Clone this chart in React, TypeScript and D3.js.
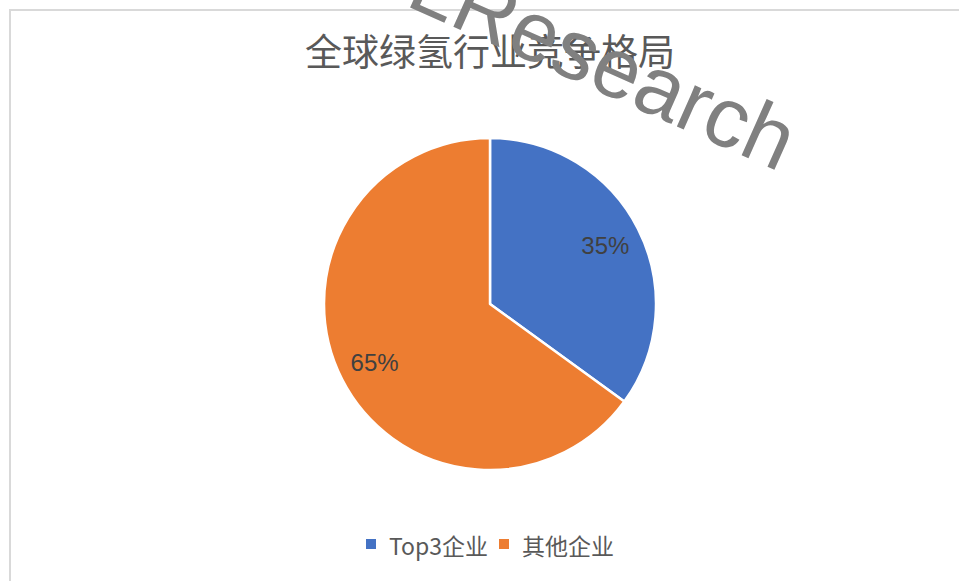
import React from "react";
import * as d3 from "d3";

const categories = ["Top3企业", "其他企业"];
const values = [35, 65];
const colors = ["#4472C4", "#ED7D31"];
const titleText = "全球绿氢行业竞争格局";

const W = 959;
const H = 581;
const cx = 490;
const cy = 304;
const R = 166;

export default function App() {
  const pie = d3.pie<number>().sort(null).value((d) => d);
  const arcs = pie(values);
  const arcGen = d3.arc<d3.PieArcDatum<number>>().innerRadius(0).outerRadius(R);
  const labelArc = d3
    .arc<d3.PieArcDatum<number>>()
    .innerRadius(R * 0.78)
    .outerRadius(R * 0.78);
  const total = d3.sum(values);
  const fmt = d3.format(".0%");

  const legendX = [366, 499];

  return (
    <svg
      width={W}
      height={H}
      style={{ position: "absolute", left: 0, top: 0, background: "#fff" }}
    >
      <rect x={0} y={0} width={W} height={H} fill="#fff" />
      <rect
        x={10}
        y={10}
        width={W + 20}
        height={H + 20}
        fill="#fff"
        stroke="#d9d9d9"
        strokeWidth={2}
      />
      <text
        x={cx}
        y={66}
        textAnchor="middle"
        fontFamily="'Noto Sans CJK SC', sans-serif"
        fontSize={37}
        fill="#595959"
      >
        {titleText}
      </text>
      <g transform={`translate(${cx},${cy})`}>
        {arcs.map((a, i) => (
          <path
            key={i}
            d={arcGen(a) || ""}
            fill={colors[i]}
            stroke="#fff"
            strokeWidth={2.5}
            strokeLinejoin="round"
          />
        ))}
        {arcs.map((a, i) => {
          const [lx, ly] = labelArc.centroid(a);
          return (
            <text
              key={"l" + i}
              x={lx}
              y={ly}
              dy="0.36em"
              textAnchor="middle"
              fontFamily="'Liberation Sans', Arial, sans-serif"
              fontSize={24}
              fill="#404040"
            >
              {fmt(a.data / total)}
            </text>
          );
        })}
      </g>
      {categories.map((c, i) => (
        <g key={"lg" + i}>
          <rect x={legendX[i]} y={539} width={10} height={10} fill={colors[i]} />
          <text
            x={legendX[i] + 23}
            y={555}
            fontFamily="'Noto Sans CJK SC', sans-serif"
            fontSize={23}
            fill="#595959"
          >
            {c}
          </text>
        </g>
      ))}
      <g
        transform="translate(447,24) rotate(24)"
        fontFamily="'Liberation Sans', Arial, sans-serif"
        fontSize={85}
        fill="#808080"
      >
        <text x={0} y={0} textAnchor="end">
          L
        </text>
        <text x={0} y={0}>
          Research
        </text>
      </g>
    </svg>
  );
}
